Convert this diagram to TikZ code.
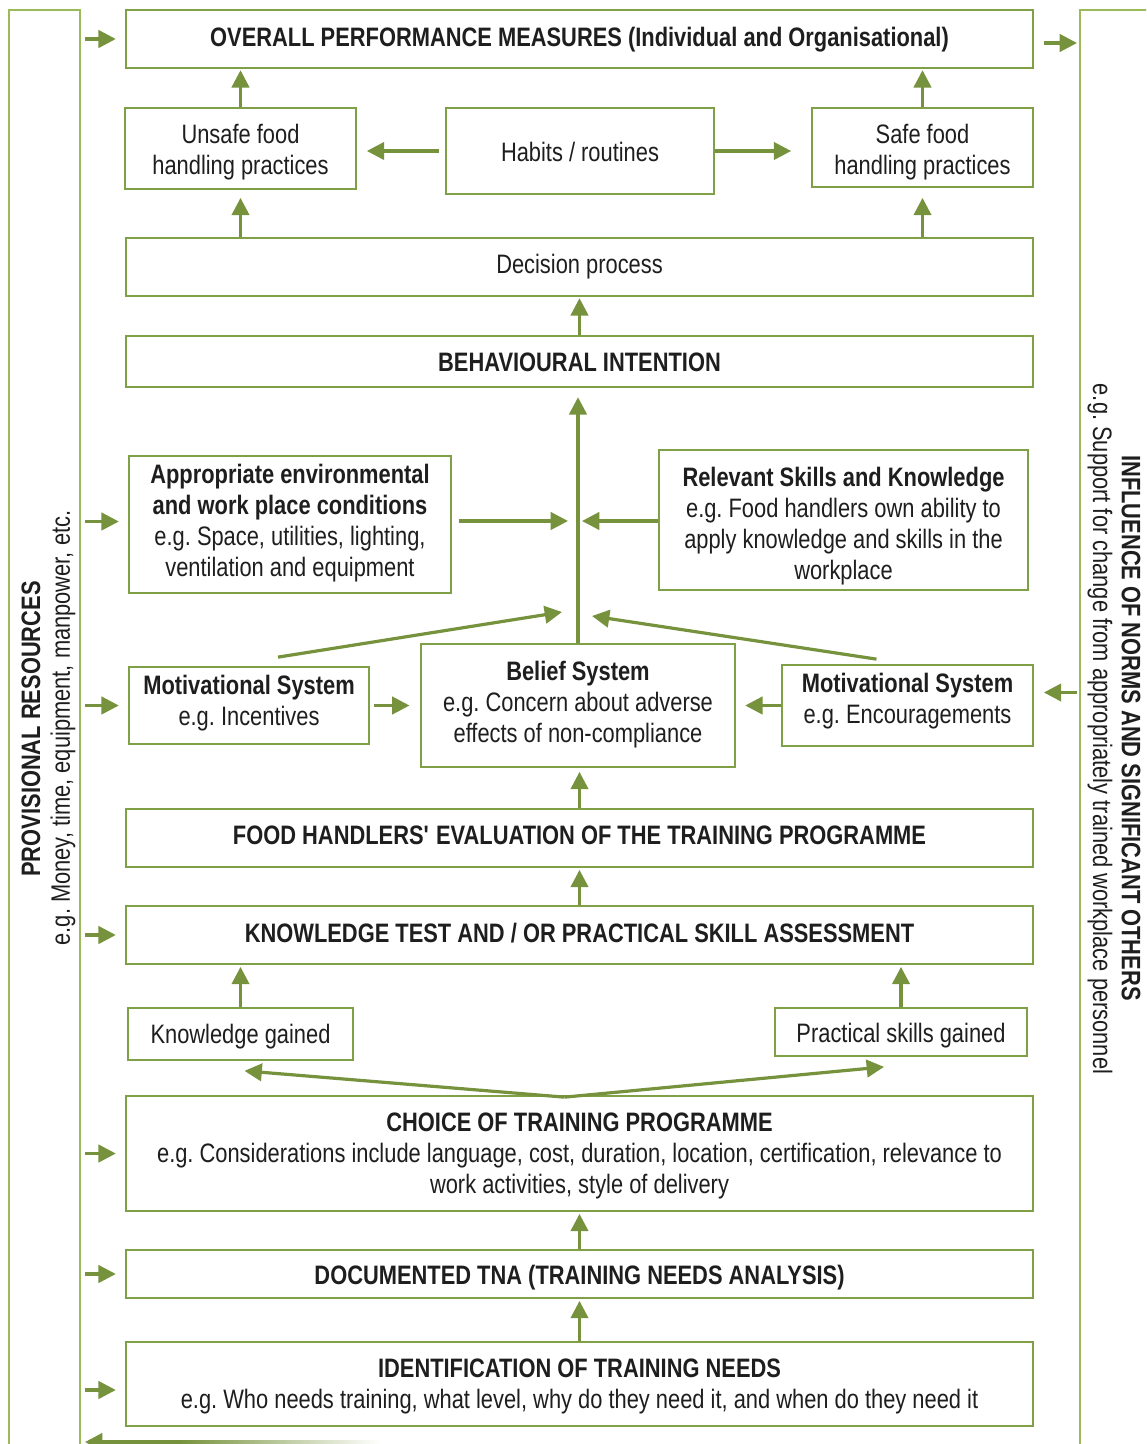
\documentclass[tikz,border=0pt]{standalone}
\usepackage{fontspec}
\setmainfont{Liberation Sans}[FakeStretch=0.82]
\usetikzlibrary{arrows.meta,fit,calc}
\definecolor{arrg}{RGB}{118,146,60}
\definecolor{boxg}{RGB}{127,160,70}
\definecolor{barg}{RGB}{155,187,89}
\definecolor{txt}{RGB}{30,30,30}
\frenchspacing
\begin{document}
\begin{tikzpicture}[x=0.75pt,y=-0.75pt,
  every node/.style={text=txt, font=\fontsize{20}{23.25}\selectfont\frenchspacing},
  box/.style={draw=boxg, line width=1.3pt, inner sep=0pt},
  lbl/.style={align=center, inner sep=0pt},
  bar/.style={draw=barg, line width=1.5pt, inner sep=0pt},
  arr/.style={draw=arrg, line width=2.4pt, -{Triangle[length=13pt,width=13pt]}},
  ]
\clip (0,0) rectangle (1146,1444);
\fill[white] (0,0) rectangle (1146,1444);

% side bars
\node[bar, fit={(9,10)(80,1480)}] (leftbar) {};
\node[bar, fit={(1080,10)(1190,1480)}] (rightbar) {};
\node[rotate=90, font=\fontsize{20}{23.25}\selectfont\bfseries] (lbt) at (31,729) {PROVISIONAL RESOURCES};
\node[rotate=90] (lbs) at (63,728) {e.g. Money, time, equipment, manpower, etc.};
\node[rotate=-90, font=\fontsize{20}{23.25}\selectfont\bfseries] (rbt) at (1131,728) {INFLUENCE OF NORMS AND SIGNIFICANT OTHERS};
\node[rotate=-90] (rbs) at (1100,729) {e.g. Support for change from appropriately trained workplace personnel};

% boxes
\node[box, fit={(126,10)(1033,68)}] (overall) {};
\node[box, fit={(125,108)(356,189)}] (unsafe) {};
\node[box, fit={(446,108)(714,194)}] (habits) {};
\node[box, fit={(812,108)(1033,187)}] (safe) {};
\node[box, fit={(126,238)(1033,296)}] (decision) {};
\node[box, fit={(126,336)(1033,387)}] (intent) {};
\node[box, fit={(129,456)(451,593)}] (env) {};
\node[box, fit={(659,450)(1028,590)}] (skills) {};
\node[box, fit={(129,667)(369,744)}] (motl) {};
\node[box, fit={(421,644)(735,767)}] (belief) {};
\node[box, fit={(782,665)(1033,746)}] (motr) {};
\node[box, fit={(126,809)(1033,867)}] (eval) {};
\node[box, fit={(126,906)(1033,964)}] (test) {};
\node[box, fit={(128,1008)(353,1060)}] (kg) {};
\node[box, fit={(775,1008)(1027,1056)}] (ps) {};
\node[box, fit={(126,1096)(1033,1211)}] (choice) {};
\node[box, fit={(126,1250)(1033,1298)}] (tna) {};
\node[box, fit={(126,1342)(1033,1426)}] (ident) {};

% box texts
\node[lbl, font=\fontsize{20}{23.25}\selectfont\bfseries] (overall-t) at ($(overall.center)+(0,1)$) {OVERALL PERFORMANCE MEASURES (Individual and Organisational)};
\node[lbl] (unsafe-t) at ($(unsafe.center)+(0,4)$) {Unsafe food\\handling practices};
\node[lbl] (habits-t) at ($(habits.center)+(0,1)$) {Habits / routines};
\node[lbl] (safe-t) at ($(safe.center)+(0,5)$) {Safe food\\handling practices};
\node[lbl] (decision-t) at (decision.center) {Decision process};
\node[lbl, font=\fontsize{20}{23.25}\selectfont\bfseries] (intent-t) at ($(intent.center)+(0,1)$) {BEHAVIOURAL INTENTION};
\node[lbl] (env-t) at ($(env.center)+(0,-1)$) {\textbf{Appropriate environmental}\\\textbf{and work place conditions}\\e.g. Space, utilities, lighting,\\ventilation and equipment};
\node[lbl] (skills-t) at ($(skills.center)+(0,6)$) {\textbf{Relevant Skills and Knowledge}\\e.g. Food handlers own ability to\\apply knowledge and skills in the\\workplace};
\node[lbl] (motl-t) at ($(motl.center)+(0,-2)$) {\textbf{Motivational System}\\e.g. Incentives};
\node[lbl] (belief-t) at ($(belief.center)+(0,-1)$) {\textbf{Belief System}\\e.g. Concern about adverse\\effects of non-compliance};
\node[lbl] (motr-t) at ($(motr.center)+(0,-4)$) {\textbf{Motivational System}\\e.g. Encouragements};
\node[lbl, font=\fontsize{20}{23.25}\selectfont\bfseries] (eval-t) at ($(eval.center)+(0,-3)$) {FOOD HANDLERS\textquotesingle\ EVALUATION OF THE TRAINING PROGRAMME};
\node[lbl, font=\fontsize{20}{23.25}\selectfont\bfseries] (test-t) at ($(test.center)+(0,-2)$) {KNOWLEDGE TEST AND / OR PRACTICAL SKILL ASSESSMENT};
\node[lbl] (kg-t) at ($(kg.center)+(0,3)$) {Knowledge gained};
\node[lbl] (ps-t) at ($(ps.center)+(0,4)$) {Practical skills gained};
\node[lbl] (choice-t) at ($(choice.center)+(0,2)$) {\textbf{CHOICE OF TRAINING PROGRAMME}\\e.g. Considerations include language, cost, duration, location, certification, relevance to\\work activities, style of delivery};
\node[lbl, font=\fontsize{20}{23.25}\selectfont\bfseries] (tna-t) at ($(tna.center)+(0,4)$) {DOCUMENTED TNA (TRAINING NEEDS ANALYSIS)};
\node[lbl] (ident-t) at ($(ident.center)+(0,2)$) {\textbf{IDENTIFICATION OF TRAINING NEEDS}\\e.g. Who needs training, what level, why do they need it, and when do they need it};

% helper coordinates
\coordinate (hubL) at (568,521);
\coordinate (hubR) at (582,521);
\coordinate (mlTop) at ($(motl.north)+(29,-9)$);
\coordinate (tipML) at (562,612);
\coordinate (mrTop) at ($(motr.north)+(-31,-5)$);
\coordinate (tipMR) at (592,616);
\coordinate (chTop) at ($(choice.north)+(-15,2)$);
\coordinate (kgTip) at ($(kg.south)+(4,10)$);
\coordinate (psTip) at ($(ps.south)+(-17,10)$);
\coordinate (rIn) at ($(motr.east)+(0,-13)$);
\coordinate (rOut) at ($(overall.east)+(0,4)$);
\coordinate (identIn) at ($(ident.west)+(0,6)$);
\coordinate (envIn) at ($(env.west)+(0,-3)$);
\coordinate (btail) at (180,1442);

% top part
\draw[arr, shorten >=1pt] (unsafe.north) -- (unsafe.north |- overall.south);
\draw[arr, shorten >=1pt] (safe.north) -- (safe.north |- overall.south);
\draw[arr, shorten <=4.5pt, shorten >=7.5pt] (habits.west) -- (unsafe.east |- habits.west);
\draw[arr, shorten >=15pt] (habits.east) -- (safe.west |- habits.east);
\draw[arr, shorten >=6pt] (decision.north -| unsafe.south) -- (unsafe.south);
\draw[arr, shorten >=7.5pt] (decision.north -| safe.south) -- (safe.south);
\draw[arr, shorten >=1pt] (intent.north) -- (decision.south);
\draw[arr, shorten >=7pt] (belief.north) -- (belief.north |- intent.south);
\draw[arr, shorten <=5pt] (env.east |- hubL) -- (hubL);
\draw[arr] (skills.west |- hubR) -- (hubR);
\draw[arr] (mlTop) -- (tipML);
\draw[arr] (mrTop) -- (tipMR);
\draw[arr, shorten <=3pt, shorten >=8pt] (motl.east) -- (belief.west);
\draw[arr, shorten >=7pt] (motr.west) -- (belief.east);
\draw[arr, shorten >=3pt] (eval.north) -- (eval.north |- belief.south);
\draw[arr, shorten >=1.5pt] (test.north) -- (test.north |- eval.south);
\draw[arr, shorten >=1.5pt] (kg.north) -- (kg.north |- test.south);
\draw[arr, shorten >=1.5pt] (ps.north) -- (ps.north |- test.south);
\draw[arr] (chTop) -- (kgTip);
\draw[arr] (chTop) -- (psTip);
\draw[arr, shorten >=1.5pt] (tna.north) -- (tna.north |- choice.south);
\draw[arr, shorten >=1.5pt] (ident.north) -- (ident.north |- tna.south);

% side arrows
\foreach \t/\n in {overall.west/overall, envIn/env, motl.west/motl, test.west/test, choice.west/choice, tna.west/tna, identIn/ident}{
  \draw[arr, shorten <=3pt, shorten >=7pt] (leftbar.east |- \t) -- (\n.west |- \t);
}
\draw[arr, shorten <=7.5pt, shorten >=1.5pt] (rOut) -- (rOut -| rightbar.west);
\draw[arr, shorten <=1.5pt, shorten >=7.5pt] (rIn -| rightbar.west) -- (rIn);

% bottom return arrow (fading)
\shade[left color=arrg, right color=white] (179,1440.5) rectangle (380,1443.5);
\draw[arr, shorten >=3pt] (btail) -- (btail -| leftbar.east);
\end{tikzpicture}
\end{document}
